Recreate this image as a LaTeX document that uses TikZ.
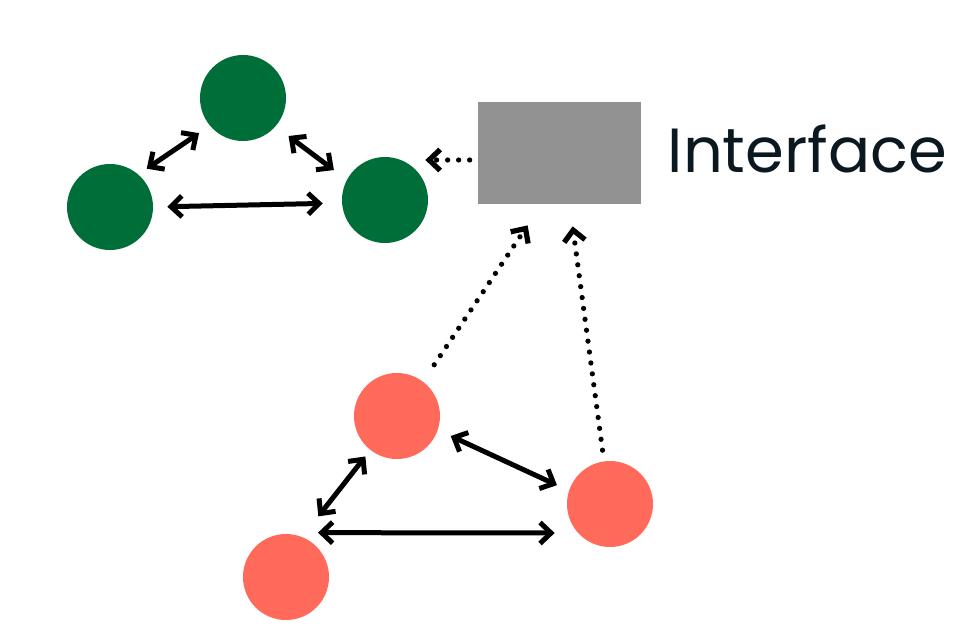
\documentclass[tikz,border=0pt]{standalone}
\usepackage{fontspec}
\setmainfont{Poppins}
\usetikzlibrary{arrows.meta,positioning}

\definecolor{leafgreen}{RGB}{0,110,56}
\definecolor{coral}{RGB}{255,106,91}
\definecolor{boxgrey}{RGB}{146,146,146}
\definecolor{inkblue}{RGB}{12,24,32}

\begin{document}
\begin{tikzpicture}[x=0.2mm,y=-0.2mm,
  peer/.style={circle,minimum size=17.2mm,inner sep=0pt},
  twoway/.style={{Straight Barb[length=2.2mm,width=4.2mm]}-{Straight Barb[length=2.2mm,width=4.2mm]},line width=1mm,line cap=round},
  oneway/.style={-{Straight Barb[length=2.2mm,width=4.2mm]},line width=1.05mm,line cap=round,dash pattern=on 0pt off 2.2mm}]
  \useasboundingbox (0,0) rectangle (956,634);
  % green group
  \node[peer,fill=leafgreen] (G1) at (243,98) {};
  \node[peer,fill=leafgreen] (G2) at (110,207) {};
  \node[peer,fill=leafgreen] (G3) at (385,200) {};
  \draw[twoway,shorten <=2mm,shorten >=2.6mm] (G2.49) -- (G1.220);
  \draw[twoway,shorten <=3.2mm,shorten >=3.2mm] (G1.-41) -- (G3.152);
  \draw[twoway,shorten <=2.8mm,shorten >=3.8mm] (G2.east) -- (G3.184);
  % interface box
  \node[fill=boxgrey,minimum width=32.6mm,minimum height=20.4mm,inner sep=0pt] (Iface) at (559.5,153) {};
  \node[right=5.2mm of Iface,yshift=0.8mm,inner sep=0pt,text=inkblue,font=\fontsize{35.5}{38}\selectfont] (Name) {Interface};
  \draw[oneway] ([shift={(-1.6mm,-1.4mm)}]Iface.west) -- ([shift={(-0.6mm,-1.4mm)}]G3.east |- Iface.west);
  % red group
  \node[peer,fill=coral] (R1) at (397,416) {};
  \node[peer,fill=coral] (R2) at (286,577) {};
  \node[peer,fill=coral] (R3) at (610,504) {};
  \draw[twoway,shorten <=5.2mm,shorten >=1.6mm] (R2.68) -- (R1.232);
  \draw[twoway,shorten <=2.8mm,shorten >=2.6mm] (R1.-19) -- (R3.162);
  \draw[twoway] ([shift={(6.4mm,0.2mm)}]R2.north) -- ([shift={(-2.4mm,-5.8mm)}]R3.west);
  \draw[oneway,shorten <=4mm] (R1.53) -- ([shift={(10mm,-4.2mm)}]Iface.south west);
  \draw[oneway,shorten <=2.2mm] (R3.98) -- ([shift={(19mm,-4.4mm)}]Iface.south west);
\end{tikzpicture}
\end{document}
